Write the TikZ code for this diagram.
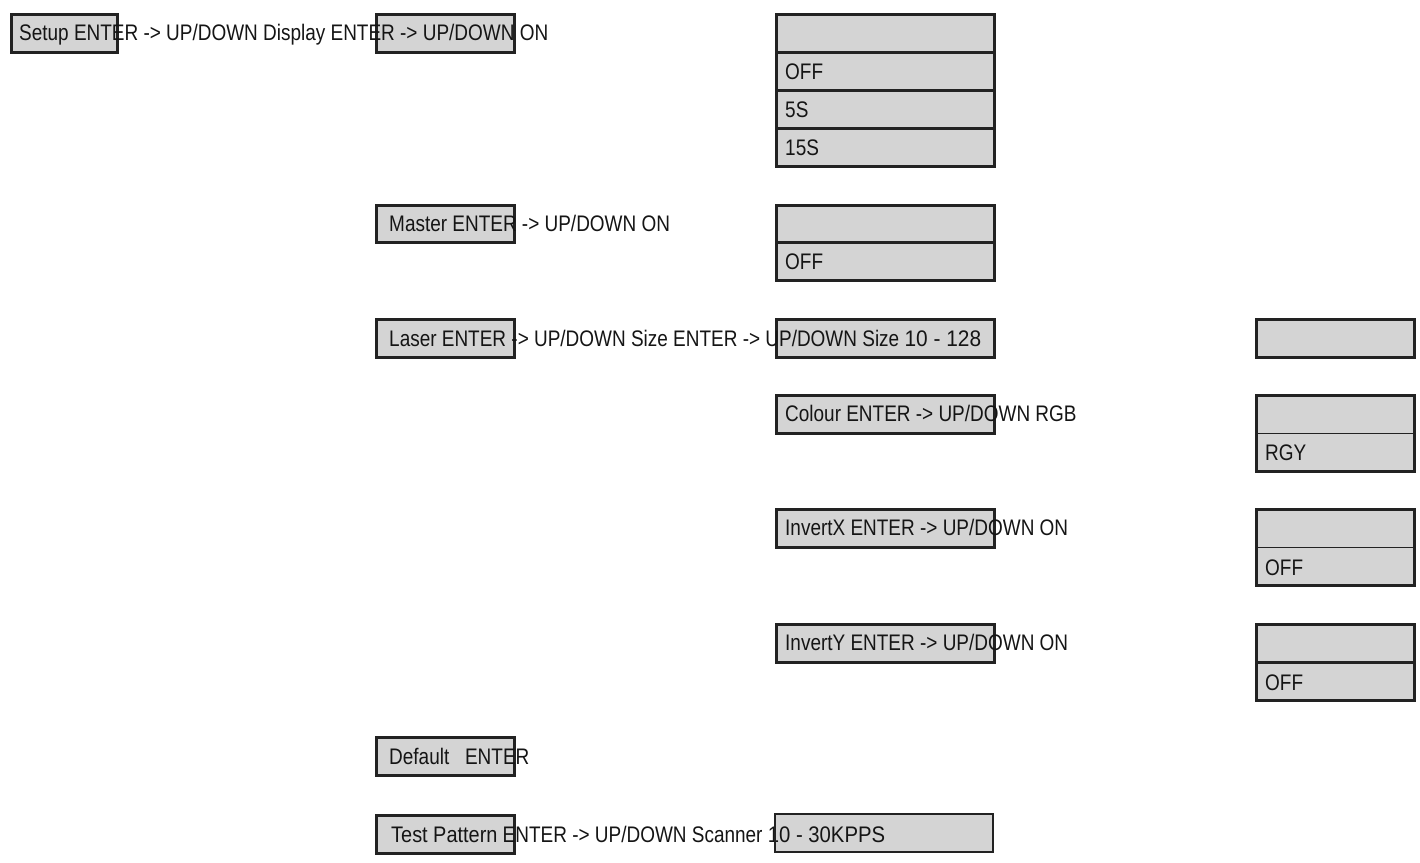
\documentclass[tikz,border=0pt]{standalone}
\usepackage{fontspec}
\setmainfont{Liberation Sans}[FakeStretch=0.843]
\definecolor{boxfill}{HTML}{D4D4D4}
\definecolor{boxline}{HTML}{222222}
\definecolor{ink}{HTML}{151515}
\newcommand{\hstretch}[2]{\scalebox{#1}[1]{#2}}
\tikzset{
  box/.style={draw=boxline, fill=boxfill, line width=2.8pt, rectangle, inner sep=0pt, anchor=north west},
  lbl/.style={anchor=base west, inner sep=0pt, text=ink, font=\fontsize{22.5}{24}\selectfont},
  thin divider/.style={draw=boxline, line width=1.4pt},
  outline/.style={draw=boxline, line width=2.8pt}
}
\begin{document}
\begin{tikzpicture}[x=1pt,y=-1pt]
\useasboundingbox (0,0) rectangle (1420,862);
% --- boxes, column 1 ---
\node[box, minimum width=106, minimum height=38] (bsetup) at (10,13) {};
% --- column 2 ---
\node[box, minimum width=138, minimum height=38] (bdisplay) at (375,13) {};
\node[box, minimum width=138, minimum height=37] (bmaster) at (375,204) {};
\node[box, minimum width=138, minimum height=38] (blaser) at (375,318) {};
\node[box, minimum width=138, minimum height=38] (bdefault) at (375,736) {};
\node[box, minimum width=138, minimum height=38] (btest) at (375,814) {};
% --- column 3 ---
\node[box, minimum width=218, minimum height=38] (d0) at (775,13) {};
\node[box, minimum width=218, minimum height=38] (d1) at (775,51) {};
\node[box, minimum width=218, minimum height=38] (d2) at (775,89) {};
\node[box, minimum width=218, minimum height=38] (d3) at (775,127) {};
\node[box, minimum width=218, minimum height=37] (m0) at (775,204) {};
\node[box, minimum width=218, minimum height=38] (m1) at (775,241) {};
\node[box, minimum width=218, minimum height=38] (bsize) at (775,318) {};
\node[box, minimum width=218, minimum height=38] (bcolour) at (775,394) {};
\node[box, minimum width=218, minimum height=38] (binvx) at (775,508) {};
\node[box, minimum width=218, minimum height=38] (binvy) at (775,623) {};
\node[box, draw=none, outer sep=0pt, minimum width=218, minimum height=38] (bscan) at (775,814) {};
% --- column 4 ---
\node[box, minimum width=158, minimum height=38] (s0) at (1255,318) {};
\node[box, minimum width=158, minimum height=76] (c0) at (1255,394) {};
\draw[thin divider] (c0.west) -- (c0.east);
\node[box, minimum width=158, minimum height=76] (x0) at (1255,508) {};
\draw[thin divider] (x0.west) -- (x0.east);
\node[box, minimum width=158, minimum height=38] (y0) at (1255,623) {};
\node[box, minimum width=158, minimum height=38] (y1) at (1255,661) {};
% --- texts ---
\node[lbl] (tsetup) at (19,40) {Setup ENTER -> UP/DOWN Display ENTER -> UP/DOWN ON};
\node[lbl] (toff1) at (785,79) {OFF};
\node[lbl] (t5s) at (785,117) {5S};
\node[lbl] (t15s) at (785,155) {15S};
\node[lbl] (tmaster) at (389,231) {Master ENTER -> UP/DOWN ON};
\node[lbl] (toff2) at (785,269) {OFF};
\node[lbl] (tlaser) at (389,346) {Laser ENTER -> UP/DOWN Size ENTER -> UP/DOWN Size \hstretch{1.1}{10 - 128}};
\node[lbl] (tcolour) at (785,421) {Colour ENTER -> UP/DOWN RGB};
\node[lbl] (trgy) at (1265,460) {RGY};
\node[lbl] (tinvx) at (785,535) {InvertX ENTER -> UP/DOWN ON};
\node[lbl] (toff3) at (1265,575) {OFF};
\node[lbl] (tinvy) at (785,650) {InvertY ENTER -> UP/DOWN ON};
\node[lbl] (toff4) at (1265,690) {OFF};
\node[lbl] (tdefault) at (389,764) {Default\ \ \ ENTER};
\node[lbl] (ttest) at (391,842) {\hstretch{1.05}{Test Pattern} ENTER -> UP/DOWN Scanner \hstretch{1.07}{10 - 30KPPS}};
% scanner box outline drawn over its text, as in the original
\draw[outline] (bscan.north west) rectangle (bscan.south east);
\end{tikzpicture}
\end{document}
